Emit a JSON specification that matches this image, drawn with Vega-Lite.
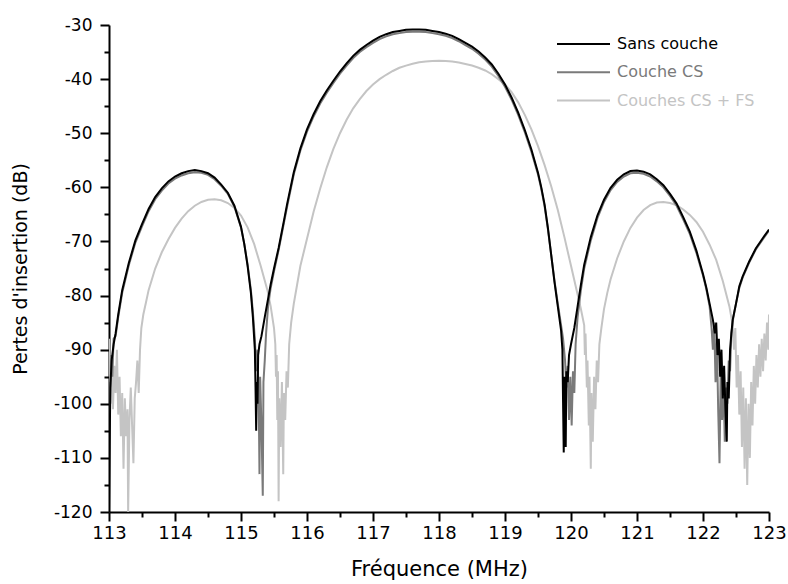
{
  "$schema": "https://vega.github.io/schema/vega-lite/v6.json",
  "width": 660,
  "height": 487,
  "autosize": {"type": "none"},
  "padding": {"left": 109, "top": 25, "right": 19, "bottom": 72},
  "background": "white",
  "config": {"view": {"stroke": null}},
  "datasets": {
    "curves": [
      {"s":"Sans couche","f":113.00,"v":-120},{"s":"Sans couche","f":113.01,"v":-108},{"s":"Sans couche","f":113.02,"v":-97},{"s":"Sans couche","f":113.04,"v":-92},{"s":"Sans couche","f":113.07,"v":-89},{"s":"Sans couche","f":113.10,"v":-87},{"s":"Sans couche","f":113.14,"v":-83.5},{"s":"Sans couche","f":113.20,"v":-79},{"s":"Sans couche","f":113.30,"v":-74},{"s":"Sans couche","f":113.40,"v":-69.8},{"s":"Sans couche","f":113.50,"v":-66.8},{"s":"Sans couche","f":113.60,"v":-64},{"s":"Sans couche","f":113.70,"v":-61.8},{"s":"Sans couche","f":113.80,"v":-60.2},{"s":"Sans couche","f":113.90,"v":-58.9},{"s":"Sans couche","f":114.00,"v":-58.0},{"s":"Sans couche","f":114.10,"v":-57.4},{"s":"Sans couche","f":114.20,"v":-57.0},{"s":"Sans couche","f":114.30,"v":-56.8},{"s":"Sans couche","f":114.40,"v":-57.0},{"s":"Sans couche","f":114.50,"v":-57.4},{"s":"Sans couche","f":114.60,"v":-58.2},{"s":"Sans couche","f":114.70,"v":-59.5},{"s":"Sans couche","f":114.80,"v":-61.0},{"s":"Sans couche","f":114.90,"v":-63.4},{"s":"Sans couche","f":115.00,"v":-67.3},{"s":"Sans couche","f":115.05,"v":-70.5},{"s":"Sans couche","f":115.10,"v":-74.5},{"s":"Sans couche","f":115.15,"v":-79.5},{"s":"Sans couche","f":115.18,"v":-84},{"s":"Sans couche","f":115.21,"v":-90},{"s":"Sans couche","f":115.22,"v":-97},{"s":"Sans couche","f":115.23,"v":-105},{"s":"Sans couche","f":115.24,"v":-96},{"s":"Sans couche","f":115.25,"v":-100},{"s":"Sans couche","f":115.26,"v":-91},{"s":"Sans couche","f":115.28,"v":-89},{"s":"Sans couche","f":115.31,"v":-87.5},{"s":"Sans couche","f":115.36,"v":-84},{"s":"Sans couche","f":115.41,"v":-80.6},{"s":"Sans couche","f":115.45,"v":-77.9},{"s":"Sans couche","f":115.50,"v":-75},{"s":"Sans couche","f":115.57,"v":-71.2},{"s":"Sans couche","f":115.65,"v":-66.2},{"s":"Sans couche","f":115.70,"v":-63},{"s":"Sans couche","f":115.80,"v":-57.2},{"s":"Sans couche","f":115.90,"v":-52.8},{"s":"Sans couche","f":116.00,"v":-49.3},{"s":"Sans couche","f":116.10,"v":-46.5},{"s":"Sans couche","f":116.20,"v":-44.1},{"s":"Sans couche","f":116.30,"v":-42.1},{"s":"Sans couche","f":116.40,"v":-40.3},{"s":"Sans couche","f":116.50,"v":-38.6},{"s":"Sans couche","f":116.60,"v":-37.1},{"s":"Sans couche","f":116.70,"v":-35.7},{"s":"Sans couche","f":116.80,"v":-34.6},{"s":"Sans couche","f":116.90,"v":-33.7},{"s":"Sans couche","f":117.00,"v":-32.9},{"s":"Sans couche","f":117.10,"v":-32.2},{"s":"Sans couche","f":117.20,"v":-31.7},{"s":"Sans couche","f":117.30,"v":-31.3},{"s":"Sans couche","f":117.40,"v":-31.1},{"s":"Sans couche","f":117.50,"v":-30.9},{"s":"Sans couche","f":117.60,"v":-30.85},{"s":"Sans couche","f":117.70,"v":-30.85},{"s":"Sans couche","f":117.80,"v":-30.9},{"s":"Sans couche","f":117.90,"v":-31.1},{"s":"Sans couche","f":118.00,"v":-31.3},{"s":"Sans couche","f":118.10,"v":-31.6},{"s":"Sans couche","f":118.20,"v":-32.0},{"s":"Sans couche","f":118.30,"v":-32.6},{"s":"Sans couche","f":118.40,"v":-33.3},{"s":"Sans couche","f":118.50,"v":-34.0},{"s":"Sans couche","f":118.60,"v":-34.9},{"s":"Sans couche","f":118.70,"v":-36.0},{"s":"Sans couche","f":118.80,"v":-37.3},{"s":"Sans couche","f":118.90,"v":-39.0},{"s":"Sans couche","f":119.00,"v":-41.0},{"s":"Sans couche","f":119.10,"v":-43.4},{"s":"Sans couche","f":119.20,"v":-46.2},{"s":"Sans couche","f":119.30,"v":-49.4},{"s":"Sans couche","f":119.40,"v":-53},{"s":"Sans couche","f":119.50,"v":-57.3},{"s":"Sans couche","f":119.55,"v":-60},{"s":"Sans couche","f":119.60,"v":-63.2},{"s":"Sans couche","f":119.65,"v":-67.5},{"s":"Sans couche","f":119.70,"v":-72.5},{"s":"Sans couche","f":119.75,"v":-77.5},{"s":"Sans couche","f":119.80,"v":-82},{"s":"Sans couche","f":119.85,"v":-86.5},{"s":"Sans couche","f":119.87,"v":-90},{"s":"Sans couche","f":119.88,"v":-100},{"s":"Sans couche","f":119.89,"v":-109},{"s":"Sans couche","f":119.90,"v":-95},{"s":"Sans couche","f":119.91,"v":-103},{"s":"Sans couche","f":119.92,"v":-108},{"s":"Sans couche","f":119.93,"v":-94},{"s":"Sans couche","f":119.95,"v":-96},{"s":"Sans couche","f":119.97,"v":-91},{"s":"Sans couche","f":120.00,"v":-89},{"s":"Sans couche","f":120.05,"v":-86},{"s":"Sans couche","f":120.10,"v":-82},{"s":"Sans couche","f":120.15,"v":-78},{"s":"Sans couche","f":120.20,"v":-74.3},{"s":"Sans couche","f":120.30,"v":-69.2},{"s":"Sans couche","f":120.40,"v":-65.2},{"s":"Sans couche","f":120.50,"v":-62.3},{"s":"Sans couche","f":120.60,"v":-60.1},{"s":"Sans couche","f":120.70,"v":-58.6},{"s":"Sans couche","f":120.80,"v":-57.6},{"s":"Sans couche","f":120.90,"v":-57.0},{"s":"Sans couche","f":121.00,"v":-56.9},{"s":"Sans couche","f":121.10,"v":-57.1},{"s":"Sans couche","f":121.20,"v":-57.6},{"s":"Sans couche","f":121.30,"v":-58.5},{"s":"Sans couche","f":121.40,"v":-59.6},{"s":"Sans couche","f":121.50,"v":-61.2},{"s":"Sans couche","f":121.60,"v":-63.0},{"s":"Sans couche","f":121.70,"v":-65.5},{"s":"Sans couche","f":121.80,"v":-68.2},{"s":"Sans couche","f":121.90,"v":-71.7},{"s":"Sans couche","f":122.00,"v":-76},{"s":"Sans couche","f":122.05,"v":-78.5},{"s":"Sans couche","f":122.10,"v":-81.5},{"s":"Sans couche","f":122.15,"v":-84.5},{"s":"Sans couche","f":122.18,"v":-87},{"s":"Sans couche","f":122.20,"v":-85},{"s":"Sans couche","f":122.22,"v":-91},{"s":"Sans couche","f":122.24,"v":-88},{"s":"Sans couche","f":122.26,"v":-95},{"s":"Sans couche","f":122.28,"v":-90},{"s":"Sans couche","f":122.30,"v":-99},{"s":"Sans couche","f":122.32,"v":-93},{"s":"Sans couche","f":122.34,"v":-101},{"s":"Sans couche","f":122.36,"v":-107},{"s":"Sans couche","f":122.37,"v":-96},{"s":"Sans couche","f":122.39,"v":-99},{"s":"Sans couche","f":122.41,"v":-90},{"s":"Sans couche","f":122.43,"v":-87},{"s":"Sans couche","f":122.45,"v":-84.5},{"s":"Sans couche","f":122.50,"v":-81.5},{"s":"Sans couche","f":122.55,"v":-78.3},{"s":"Sans couche","f":122.60,"v":-76.5},{"s":"Sans couche","f":122.70,"v":-73.7},{"s":"Sans couche","f":122.80,"v":-71.3},{"s":"Sans couche","f":122.90,"v":-69.5},{"s":"Sans couche","f":123.00,"v":-67.8},

      {"s":"Couche CS","f":113.00,"v":-107},{"s":"Couche CS","f":113.01,"v":-96},{"s":"Couche CS","f":113.02,"v":-100},{"s":"Couche CS","f":113.03,"v":-91},{"s":"Couche CS","f":113.05,"v":-95},{"s":"Couche CS","f":113.07,"v":-88},{"s":"Couche CS","f":113.10,"v":-87.5},{"s":"Couche CS","f":113.14,"v":-84},{"s":"Couche CS","f":113.20,"v":-79.5},{"s":"Couche CS","f":113.30,"v":-74.4},{"s":"Couche CS","f":113.40,"v":-70.2},{"s":"Couche CS","f":113.50,"v":-67.2},{"s":"Couche CS","f":113.60,"v":-64.4},{"s":"Couche CS","f":113.70,"v":-62.2},{"s":"Couche CS","f":113.80,"v":-60.6},{"s":"Couche CS","f":113.90,"v":-59.3},{"s":"Couche CS","f":114.00,"v":-58.4},{"s":"Couche CS","f":114.10,"v":-57.8},{"s":"Couche CS","f":114.20,"v":-57.4},{"s":"Couche CS","f":114.30,"v":-57.2},{"s":"Couche CS","f":114.40,"v":-57.3},{"s":"Couche CS","f":114.50,"v":-57.7},{"s":"Couche CS","f":114.60,"v":-58.5},{"s":"Couche CS","f":114.70,"v":-59.7},{"s":"Couche CS","f":114.80,"v":-61.2},{"s":"Couche CS","f":114.90,"v":-63.6},{"s":"Couche CS","f":115.00,"v":-67.4},{"s":"Couche CS","f":115.05,"v":-70.5},{"s":"Couche CS","f":115.10,"v":-74.3},{"s":"Couche CS","f":115.15,"v":-79},{"s":"Couche CS","f":115.18,"v":-83},{"s":"Couche CS","f":115.21,"v":-88},{"s":"Couche CS","f":115.23,"v":-94},{"s":"Couche CS","f":115.25,"v":-90},{"s":"Couche CS","f":115.27,"v":-101},{"s":"Couche CS","f":115.28,"v":-113},{"s":"Couche CS","f":115.29,"v":-95},{"s":"Couche CS","f":115.31,"v":-104},{"s":"Couche CS","f":115.33,"v":-117},{"s":"Couche CS","f":115.34,"v":-96},{"s":"Couche CS","f":115.36,"v":-92},{"s":"Couche CS","f":115.38,"v":-87},{"s":"Couche CS","f":115.41,"v":-82},{"s":"Couche CS","f":115.45,"v":-78.6},{"s":"Couche CS","f":115.50,"v":-75.5},{"s":"Couche CS","f":115.57,"v":-71.6},{"s":"Couche CS","f":115.65,"v":-66.6},{"s":"Couche CS","f":115.70,"v":-63.5},{"s":"Couche CS","f":115.80,"v":-57.6},{"s":"Couche CS","f":115.90,"v":-53.2},{"s":"Couche CS","f":116.00,"v":-49.7},{"s":"Couche CS","f":116.10,"v":-46.9},{"s":"Couche CS","f":116.20,"v":-44.5},{"s":"Couche CS","f":116.30,"v":-42.5},{"s":"Couche CS","f":116.40,"v":-40.7},{"s":"Couche CS","f":116.50,"v":-39.0},{"s":"Couche CS","f":116.60,"v":-37.5},{"s":"Couche CS","f":116.70,"v":-36.1},{"s":"Couche CS","f":116.80,"v":-35.0},{"s":"Couche CS","f":116.90,"v":-34.1},{"s":"Couche CS","f":117.00,"v":-33.3},{"s":"Couche CS","f":117.10,"v":-32.6},{"s":"Couche CS","f":117.20,"v":-32.1},{"s":"Couche CS","f":117.30,"v":-31.7},{"s":"Couche CS","f":117.40,"v":-31.5},{"s":"Couche CS","f":117.50,"v":-31.3},{"s":"Couche CS","f":117.60,"v":-31.25},{"s":"Couche CS","f":117.70,"v":-31.25},{"s":"Couche CS","f":117.80,"v":-31.3},{"s":"Couche CS","f":117.90,"v":-31.5},{"s":"Couche CS","f":118.00,"v":-31.7},{"s":"Couche CS","f":118.10,"v":-32.0},{"s":"Couche CS","f":118.20,"v":-32.4},{"s":"Couche CS","f":118.30,"v":-33.0},{"s":"Couche CS","f":118.40,"v":-33.7},{"s":"Couche CS","f":118.50,"v":-34.4},{"s":"Couche CS","f":118.60,"v":-35.3},{"s":"Couche CS","f":118.70,"v":-36.4},{"s":"Couche CS","f":118.80,"v":-37.7},{"s":"Couche CS","f":118.90,"v":-39.4},{"s":"Couche CS","f":119.00,"v":-41.4},{"s":"Couche CS","f":119.10,"v":-43.8},{"s":"Couche CS","f":119.20,"v":-46.6},{"s":"Couche CS","f":119.30,"v":-49.8},{"s":"Couche CS","f":119.40,"v":-53.4},{"s":"Couche CS","f":119.50,"v":-57.6},{"s":"Couche CS","f":119.55,"v":-60.3},{"s":"Couche CS","f":119.60,"v":-63.5},{"s":"Couche CS","f":119.65,"v":-67.7},{"s":"Couche CS","f":119.70,"v":-72.5},{"s":"Couche CS","f":119.75,"v":-77.3},{"s":"Couche CS","f":119.80,"v":-81.5},{"s":"Couche CS","f":119.85,"v":-85.5},{"s":"Couche CS","f":119.88,"v":-88},{"s":"Couche CS","f":119.91,"v":-92},{"s":"Couche CS","f":119.93,"v":-97},{"s":"Couche CS","f":119.95,"v":-93},{"s":"Couche CS","f":119.97,"v":-103},{"s":"Couche CS","f":119.99,"v":-95},{"s":"Couche CS","f":120.01,"v":-104},{"s":"Couche CS","f":120.03,"v":-94},{"s":"Couche CS","f":120.05,"v":-98},{"s":"Couche CS","f":120.07,"v":-89},{"s":"Couche CS","f":120.10,"v":-84},{"s":"Couche CS","f":120.15,"v":-79},{"s":"Couche CS","f":120.20,"v":-75},{"s":"Couche CS","f":120.30,"v":-69.8},{"s":"Couche CS","f":120.40,"v":-65.7},{"s":"Couche CS","f":120.50,"v":-62.7},{"s":"Couche CS","f":120.60,"v":-60.5},{"s":"Couche CS","f":120.70,"v":-59.0},{"s":"Couche CS","f":120.80,"v":-58.0},{"s":"Couche CS","f":120.90,"v":-57.4},{"s":"Couche CS","f":121.00,"v":-57.3},{"s":"Couche CS","f":121.10,"v":-57.5},{"s":"Couche CS","f":121.20,"v":-58.0},{"s":"Couche CS","f":121.30,"v":-58.9},{"s":"Couche CS","f":121.40,"v":-60.0},{"s":"Couche CS","f":121.50,"v":-61.6},{"s":"Couche CS","f":121.60,"v":-63.4},{"s":"Couche CS","f":121.70,"v":-65.9},{"s":"Couche CS","f":121.80,"v":-68.6},{"s":"Couche CS","f":121.90,"v":-72.1},{"s":"Couche CS","f":122.00,"v":-76.3},{"s":"Couche CS","f":122.05,"v":-78.8},{"s":"Couche CS","f":122.10,"v":-82},{"s":"Couche CS","f":122.13,"v":-86},{"s":"Couche CS","f":122.15,"v":-90},{"s":"Couche CS","f":122.17,"v":-85},{"s":"Couche CS","f":122.19,"v":-96},{"s":"Couche CS","f":122.21,"v":-88},{"s":"Couche CS","f":122.23,"v":-101},{"s":"Couche CS","f":122.25,"v":-111},{"s":"Couche CS","f":122.27,"v":-93},{"s":"Couche CS","f":122.29,"v":-103},{"s":"Couche CS","f":122.31,"v":-95},{"s":"Couche CS","f":122.33,"v":-107},{"s":"Couche CS","f":122.35,"v":-97},{"s":"Couche CS","f":122.37,"v":-100},{"s":"Couche CS","f":122.39,"v":-92},{"s":"Couche CS","f":122.41,"v":-94},{"s":"Couche CS","f":122.43,"v":-87},{"s":"Couche CS","f":122.46,"v":-84},{"s":"Couche CS","f":122.50,"v":-81.5},{"s":"Couche CS","f":122.55,"v":-78.6},{"s":"Couche CS","f":122.60,"v":-76.7},{"s":"Couche CS","f":122.70,"v":-73.9},{"s":"Couche CS","f":122.80,"v":-71.5},{"s":"Couche CS","f":122.90,"v":-69.7},{"s":"Couche CS","f":123.00,"v":-68.0},

      {"s":"Couches CS + FS","f":113.00,"v":-88},{"s":"Couches CS + FS","f":113.02,"v":-97},{"s":"Couches CS + FS","f":113.04,"v":-91},{"s":"Couches CS + FS","f":113.06,"v":-101},{"s":"Couches CS + FS","f":113.08,"v":-93},{"s":"Couches CS + FS","f":113.10,"v":-98},{"s":"Couches CS + FS","f":113.12,"v":-90},{"s":"Couches CS + FS","f":113.14,"v":-102},{"s":"Couches CS + FS","f":113.16,"v":-95},{"s":"Couches CS + FS","f":113.18,"v":-106},{"s":"Couches CS + FS","f":113.20,"v":-98},{"s":"Couches CS + FS","f":113.22,"v":-112},{"s":"Couches CS + FS","f":113.24,"v":-99},{"s":"Couches CS + FS","f":113.26,"v":-106},{"s":"Couches CS + FS","f":113.28,"v":-101},{"s":"Couches CS + FS","f":113.29,"v":-120},{"s":"Couches CS + FS","f":113.31,"v":-103},{"s":"Couches CS + FS","f":113.33,"v":-97},{"s":"Couches CS + FS","f":113.35,"v":-104},{"s":"Couches CS + FS","f":113.37,"v":-111},{"s":"Couches CS + FS","f":113.39,"v":-99},{"s":"Couches CS + FS","f":113.41,"v":-96},{"s":"Couches CS + FS","f":113.43,"v":-92},{"s":"Couches CS + FS","f":113.45,"v":-98},{"s":"Couches CS + FS","f":113.47,"v":-90},{"s":"Couches CS + FS","f":113.49,"v":-86},{"s":"Couches CS + FS","f":113.52,"v":-83.5},{"s":"Couches CS + FS","f":113.56,"v":-81.3},{"s":"Couches CS + FS","f":113.60,"v":-79},{"s":"Couches CS + FS","f":113.70,"v":-75},{"s":"Couches CS + FS","f":113.80,"v":-72},{"s":"Couches CS + FS","f":113.90,"v":-69.6},{"s":"Couches CS + FS","f":114.00,"v":-67.5},{"s":"Couches CS + FS","f":114.10,"v":-65.8},{"s":"Couches CS + FS","f":114.20,"v":-64.4},{"s":"Couches CS + FS","f":114.30,"v":-63.4},{"s":"Couches CS + FS","f":114.40,"v":-62.7},{"s":"Couches CS + FS","f":114.50,"v":-62.3},{"s":"Couches CS + FS","f":114.60,"v":-62.2},{"s":"Couches CS + FS","f":114.70,"v":-62.4},{"s":"Couches CS + FS","f":114.80,"v":-62.9},{"s":"Couches CS + FS","f":114.90,"v":-63.8},{"s":"Couches CS + FS","f":115.00,"v":-65.2},{"s":"Couches CS + FS","f":115.10,"v":-67.4},{"s":"Couches CS + FS","f":115.20,"v":-70.5},{"s":"Couches CS + FS","f":115.30,"v":-74.6},{"s":"Couches CS + FS","f":115.40,"v":-79},{"s":"Couches CS + FS","f":115.45,"v":-82},{"s":"Couches CS + FS","f":115.50,"v":-86},{"s":"Couches CS + FS","f":115.52,"v":-89},{"s":"Couches CS + FS","f":115.53,"v":-95},{"s":"Couches CS + FS","f":115.54,"v":-91},{"s":"Couches CS + FS","f":115.55,"v":-103},{"s":"Couches CS + FS","f":115.56,"v":-94},{"s":"Couches CS + FS","f":115.57,"v":-118},{"s":"Couches CS + FS","f":115.58,"v":-99},{"s":"Couches CS + FS","f":115.60,"v":-108},{"s":"Couches CS + FS","f":115.62,"v":-96},{"s":"Couches CS + FS","f":115.64,"v":-113},{"s":"Couches CS + FS","f":115.65,"v":-98},{"s":"Couches CS + FS","f":115.67,"v":-103},{"s":"Couches CS + FS","f":115.69,"v":-94},{"s":"Couches CS + FS","f":115.71,"v":-97},{"s":"Couches CS + FS","f":115.73,"v":-89},{"s":"Couches CS + FS","f":115.76,"v":-85},{"s":"Couches CS + FS","f":115.80,"v":-81.5},{"s":"Couches CS + FS","f":115.85,"v":-78},{"s":"Couches CS + FS","f":115.90,"v":-74.5},{"s":"Couches CS + FS","f":116.00,"v":-69.5},{"s":"Couches CS + FS","f":116.10,"v":-64.5},{"s":"Couches CS + FS","f":116.20,"v":-60.2},{"s":"Couches CS + FS","f":116.30,"v":-56.3},{"s":"Couches CS + FS","f":116.40,"v":-52.9},{"s":"Couches CS + FS","f":116.50,"v":-50.0},{"s":"Couches CS + FS","f":116.60,"v":-47.5},{"s":"Couches CS + FS","f":116.70,"v":-45.4},{"s":"Couches CS + FS","f":116.80,"v":-43.7},{"s":"Couches CS + FS","f":116.90,"v":-42.2},{"s":"Couches CS + FS","f":117.00,"v":-41.0},{"s":"Couches CS + FS","f":117.10,"v":-40.0},{"s":"Couches CS + FS","f":117.20,"v":-39.2},{"s":"Couches CS + FS","f":117.30,"v":-38.5},{"s":"Couches CS + FS","f":117.40,"v":-37.9},{"s":"Couches CS + FS","f":117.50,"v":-37.5},{"s":"Couches CS + FS","f":117.60,"v":-37.15},{"s":"Couches CS + FS","f":117.70,"v":-36.9},{"s":"Couches CS + FS","f":117.80,"v":-36.75},{"s":"Couches CS + FS","f":117.90,"v":-36.65},{"s":"Couches CS + FS","f":118.00,"v":-36.6},{"s":"Couches CS + FS","f":118.10,"v":-36.65},{"s":"Couches CS + FS","f":118.20,"v":-36.75},{"s":"Couches CS + FS","f":118.30,"v":-36.95},{"s":"Couches CS + FS","f":118.40,"v":-37.2},{"s":"Couches CS + FS","f":118.50,"v":-37.5},{"s":"Couches CS + FS","f":118.60,"v":-37.9},{"s":"Couches CS + FS","f":118.70,"v":-38.4},{"s":"Couches CS + FS","f":118.80,"v":-39.1},{"s":"Couches CS + FS","f":118.90,"v":-40.0},{"s":"Couches CS + FS","f":119.00,"v":-41.0},{"s":"Couches CS + FS","f":119.10,"v":-42.4},{"s":"Couches CS + FS","f":119.20,"v":-44.3},{"s":"Couches CS + FS","f":119.30,"v":-46.6},{"s":"Couches CS + FS","f":119.40,"v":-49.3},{"s":"Couches CS + FS","f":119.50,"v":-52.4},{"s":"Couches CS + FS","f":119.60,"v":-55.9},{"s":"Couches CS + FS","f":119.70,"v":-59.8},{"s":"Couches CS + FS","f":119.80,"v":-64.2},{"s":"Couches CS + FS","f":119.90,"v":-69.2},{"s":"Couches CS + FS","f":120.00,"v":-74.5},{"s":"Couches CS + FS","f":120.10,"v":-79.8},{"s":"Couches CS + FS","f":120.15,"v":-82.5},{"s":"Couches CS + FS","f":120.20,"v":-85.5},{"s":"Couches CS + FS","f":120.21,"v":-91},{"s":"Couches CS + FS","f":120.22,"v":-87},{"s":"Couches CS + FS","f":120.24,"v":-97},{"s":"Couches CS + FS","f":120.25,"v":-92},{"s":"Couches CS + FS","f":120.27,"v":-104},{"s":"Couches CS + FS","f":120.28,"v":-95},{"s":"Couches CS + FS","f":120.30,"v":-112},{"s":"Couches CS + FS","f":120.31,"v":-98},{"s":"Couches CS + FS","f":120.33,"v":-107},{"s":"Couches CS + FS","f":120.35,"v":-95},{"s":"Couches CS + FS","f":120.37,"v":-101},{"s":"Couches CS + FS","f":120.39,"v":-92},{"s":"Couches CS + FS","f":120.41,"v":-96},{"s":"Couches CS + FS","f":120.43,"v":-89},{"s":"Couches CS + FS","f":120.46,"v":-86},{"s":"Couches CS + FS","f":120.50,"v":-82.5},{"s":"Couches CS + FS","f":120.55,"v":-79.5},{"s":"Couches CS + FS","f":120.60,"v":-77},{"s":"Couches CS + FS","f":120.70,"v":-73.1},{"s":"Couches CS + FS","f":120.80,"v":-70},{"s":"Couches CS + FS","f":120.90,"v":-67.5},{"s":"Couches CS + FS","f":121.00,"v":-65.6},{"s":"Couches CS + FS","f":121.10,"v":-64.2},{"s":"Couches CS + FS","f":121.20,"v":-63.3},{"s":"Couches CS + FS","f":121.30,"v":-62.8},{"s":"Couches CS + FS","f":121.40,"v":-62.7},{"s":"Couches CS + FS","f":121.50,"v":-62.9},{"s":"Couches CS + FS","f":121.60,"v":-63.3},{"s":"Couches CS + FS","f":121.70,"v":-64.1},{"s":"Couches CS + FS","f":121.80,"v":-65.1},{"s":"Couches CS + FS","f":121.90,"v":-66.4},{"s":"Couches CS + FS","f":122.00,"v":-68.2},{"s":"Couches CS + FS","f":122.10,"v":-70.6},{"s":"Couches CS + FS","f":122.20,"v":-73.4},{"s":"Couches CS + FS","f":122.30,"v":-77.3},{"s":"Couches CS + FS","f":122.40,"v":-82},{"s":"Couches CS + FS","f":122.45,"v":-85.5},{"s":"Couches CS + FS","f":122.47,"v":-90},{"s":"Couches CS + FS","f":122.49,"v":-86},{"s":"Couches CS + FS","f":122.51,"v":-97},{"s":"Couches CS + FS","f":122.53,"v":-91},{"s":"Couches CS + FS","f":122.55,"v":-102},{"s":"Couches CS + FS","f":122.57,"v":-94},{"s":"Couches CS + FS","f":122.59,"v":-108},{"s":"Couches CS + FS","f":122.61,"v":-97},{"s":"Couches CS + FS","f":122.63,"v":-112},{"s":"Couches CS + FS","f":122.65,"v":-99},{"s":"Couches CS + FS","f":122.67,"v":-115},{"s":"Couches CS + FS","f":122.69,"v":-100},{"s":"Couches CS + FS","f":122.71,"v":-110},{"s":"Couches CS + FS","f":122.73,"v":-96},{"s":"Couches CS + FS","f":122.75,"v":-104},{"s":"Couches CS + FS","f":122.77,"v":-93},{"s":"Couches CS + FS","f":122.79,"v":-100},{"s":"Couches CS + FS","f":122.81,"v":-91},{"s":"Couches CS + FS","f":122.83,"v":-97},{"s":"Couches CS + FS","f":122.85,"v":-89},{"s":"Couches CS + FS","f":122.87,"v":-95},{"s":"Couches CS + FS","f":122.89,"v":-88},{"s":"Couches CS + FS","f":122.91,"v":-94},{"s":"Couches CS + FS","f":122.93,"v":-87},{"s":"Couches CS + FS","f":122.95,"v":-92},{"s":"Couches CS + FS","f":122.97,"v":-85},{"s":"Couches CS + FS","f":122.99,"v":-90},{"s":"Couches CS + FS","f":123.00,"v":-83.5}
    ]
  },
  "data": {"name": "curves"},
  "encoding": {
    "x": {
      "field": "f",
      "type": "quantitative",
      "scale": {"domain": [113, 123], "nice": false, "zero": false},
      "axis": {
        "title": "Fréquence (MHz)",
        "values": [113, 113.5, 114, 114.5, 115, 115.5, 116, 116.5, 117, 117.5, 118, 118.5, 119, 119.5, 120, 120.5, 121, 121.5, 122, 122.5, 123],
        "labelExpr": "datum.value % 1 === 0 ? format(datum.value, 'd') : ''",
        "tickSize": {"condition": {"test": "datum.value % 1 === 0", "value": 9}, "value": 5},
        "grid": false,
        "labelOverlap": false,
        "labelFlush": false,
        "labelFont": "DejaVu Sans",
        "labelFontSize": 18,
        "labelPadding": 3,
        "labelColor": "black",
        "titleFont": "DejaVu Sans",
        "titleFontSize": 21,
        "titleFontWeight": "normal",
        "titleColor": "black",
        "titlePadding": 16,
        "domainColor": "black",
        "domainWidth": 2,
        "tickColor": "black",
        "tickWidth": 2
      }
    },
    "y": {
      "field": "v",
      "type": "quantitative",
      "scale": {"domain": [-120, -30], "nice": false, "zero": false},
      "axis": {
        "title": "Pertes d'insertion (dB)",
        "values": [-120, -115, -110, -105, -100, -95, -90, -85, -80, -75, -70, -65, -60, -55, -50, -45, -40, -35, -30],
        "labelExpr": "datum.value % 10 === 0 ? '-' + format(abs(datum.value), 'd') : ''",
        "tickSize": {"condition": {"test": "datum.value % 10 === 0", "value": 9}, "value": 5},
        "grid": false,
        "labelOverlap": false,
        "labelFlush": false,
        "labelFont": "DejaVu Sans",
        "labelFontSize": 17,
        "labelPadding": 8,
        "labelColor": "black",
        "titleFont": "DejaVu Sans",
        "titleFontSize": 19,
        "titleFontWeight": "normal",
        "titleColor": "black",
        "titlePadding": 23,
        "domainColor": "black",
        "domainWidth": 2,
        "tickColor": "black",
        "tickWidth": 2
      }
    },
    "color": {
      "field": "s",
      "type": "nominal",
      "scale": {
        "domain": ["Sans couche", "Couche CS", "Couches CS + FS"],
        "range": ["#000000", "#7a7a7a", "#c4c4c4"]
      },
      "legend": {
        "orient": "none",
        "legendX": 447,
        "legendY": 5,
        "title": null,
        "padding": 0,
        "offset": 0,
        "symbolType": "stroke",
        "symbolSize": 2809,
        "symbolStrokeWidth": 2,
        "clipHeight": 28,
        "rowPadding": 0.3,
        "labelOffset": 6,
        "labelFont": "DejaVu Sans",
        "labelFontSize": 16,
        "labelLimit": 300,
        "encode": {"labels": {"update": {"fill": {"signal": "scale('color', datum.value)"}}}}
      }
    }
  },
  "layer": [
    {"transform": [{"filter": "datum.s === 'Couches CS + FS'"}], "mark": {"type": "line", "strokeWidth": 2, "clip": true}},
    {"transform": [{"filter": "datum.s === 'Couche CS'"}], "mark": {"type": "line", "strokeWidth": 2, "clip": true}},
    {"transform": [{"filter": "datum.s === 'Sans couche'"}], "mark": {"type": "line", "strokeWidth": 2, "clip": true}}
  ]
}
